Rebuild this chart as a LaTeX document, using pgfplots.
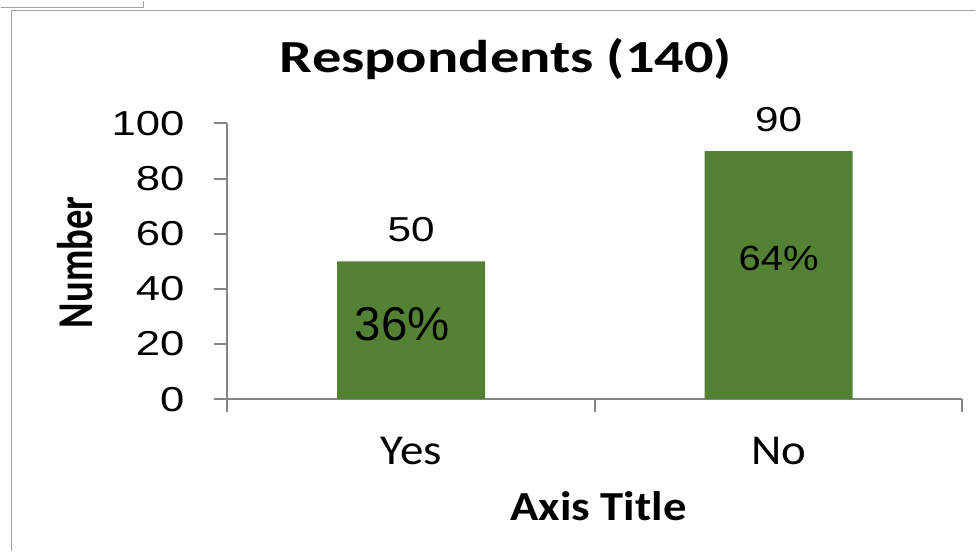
\documentclass[border=0pt]{standalone}
\usepackage{pgfplots}
\pgfplotsset{compat=1.18}
\usepackage{fontspec}
\usepackage{graphicx}
\setmainfont{Carlito}
\newfontfamily\arialf{Liberation Sans}
\definecolor{bargreen}{RGB}{84,130,53}
\definecolor{axgray}{RGB}{134,134,134}
\definecolor{framegray}{RGB}{160,160,160}
\begin{document}
\begin{tikzpicture}
\path (0pt,0pt) rectangle (732pt,413.25pt);
\draw[framegray, line width=0.9pt] (0pt,408pt) -- (107.25pt,408pt) -- (107.25pt,413.25pt);
\draw[framegray, line width=0.9pt] (7.9pt,0pt) -- (7.9pt,406pt) -- (732pt,406pt);
\begin{axis}[
  at={(170.25pt,114pt)}, anchor=south west,
  scale only axis, width=552pt, height=207pt,
  xmin=-0.5, xmax=1.5, ymin=0, ymax=100,
  axis lines*=left,
  axis line style={axgray, line width=1.5pt},
  ytick={0,20,...,100},
  xtick={0,1}, xticklabels={\scalebox{1.1}[1]{Yes},\scalebox{1.1}[1]{No}},
  minor xtick={-0.5,0.5,1.5},
  major x tick style={draw=none},
  tick style={axgray, line width=1.5pt},
  tick align=outside,
  major tick length=9.75pt, minor tick length=9.75pt,
  /pgf/number format/assume math mode=true,
  yticklabel={\scalebox{1.26}[1]{\pgfmathprintnumber{\tick}}},
  yticklabel style={font=\arialf\fontsize{26}{26}\selectfont, anchor=east, xshift=-19pt},
  xticklabel style={font=\fontsize{32}{32}\selectfont, anchor=north, yshift=-15.5pt},
  title={\scalebox{1.27}[1]{Respondents (140)}},
  title style={font=\bfseries\fontsize{34.5}{34.5}\selectfont, at={(axis description cs:0.379,1.157)}, anchor=base},
  xlabel={\scalebox{1.13}[1]{Axis Title}},
  xlabel style={font=\bfseries\fontsize{31}{31}\selectfont, at={(axis description cs:0.505,-0.44)}, anchor=base},
  ylabel={\scalebox{1}[1.3]{Number}},
  ylabel style={font=\bfseries\fontsize{29}{29}\selectfont, at={(axis description cs:-0.2065,0.496)}, anchor=center, rotate=0},
  clip=false,
]
\addplot[ybar, bar width=111pt, fill=bargreen, draw=none,
  nodes near coords={\scalebox{1.22}[1]{\pgfmathprintnumber{\pgfplotspointmeta}}},
  nodes near coords style={font=\arialf\fontsize{26}{26}\selectfont, black, yshift=11pt}]
  coordinates {(0,50) (1,90)};
\node[font=\arialf\fontsize{35.6}{36}\selectfont] at (axis cs:-0.024,27.3) {36\%};
\node[font=\arialf\fontsize{26.3}{27}\selectfont] at (axis cs:1,51) {\scalebox{1.14}[1]{64\%}};
\end{axis}
\end{tikzpicture}
\end{document}
